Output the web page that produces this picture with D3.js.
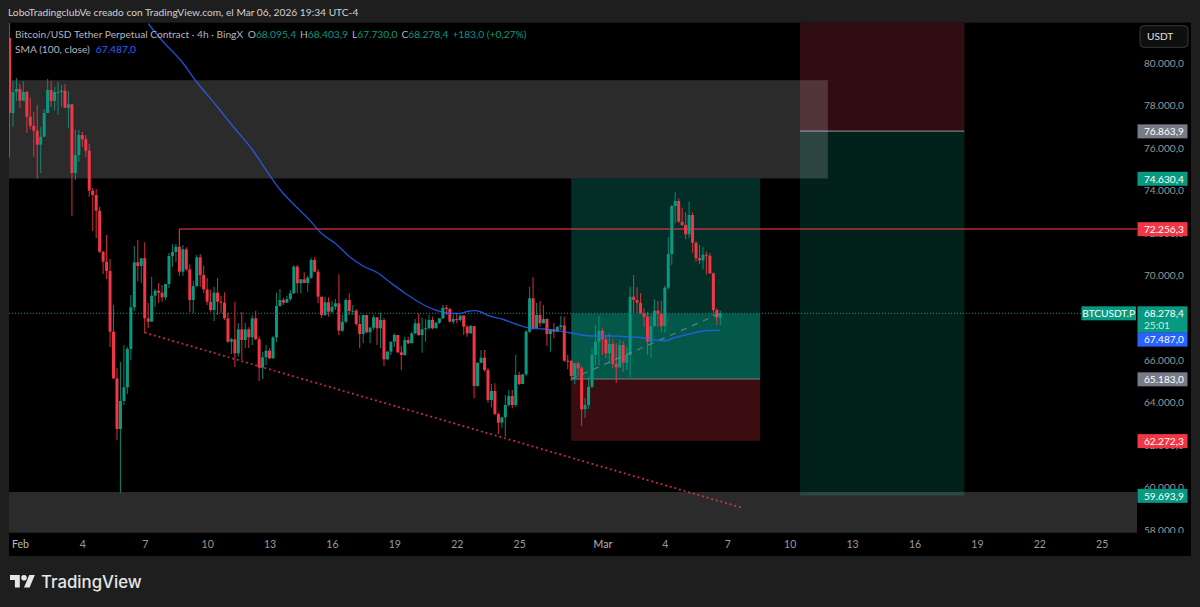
<!DOCTYPE html>
<html><head><meta charset="utf-8">
<script src="https://cdn.jsdelivr.net/npm/d3@7"></script>
<style>html,body{margin:0;padding:0;background:#1e1e1e;overflow:hidden}svg{display:block}text{font-family:Lato,"Open Sans",sans-serif}</style>
</head><body><svg id="c" width="1200" height="607"></svg>
<script>
const firstOpen = 81249;
const closes = [77716,78705,78846,78295,78705,77541,77117,76882,76222,76599,77716,78799,78281,78705,78705,78766,77965,78126,74889,75737,76679,76477,75940,74055,73852,73113,71181,70710,70272,67412,65217,62829,64148,64793,66598,68562,70682,70508,70870,68044,67884,69109,69344,69250,69033,69660,70979,71167,71417,70239,71294,70352,68906,69565,70917,70084,69410,68826,68435,69250,68826,68779,68044,66941,67055,66395,67525,67021,67525,67148,68044,67055,65717,66206,66518,66159,67148,68623,68906,68779,68953,69221,70475,69693,69881,69707,69957,70790,70239,69062,68199,68797,68354,68590,68750,67460,67884,68906,68388,68402,67775,67304,68199,67384,67601,68091,67573,67964,66112,66471,66941,67257,66442,66315,67021,66866,67337,67808,67257,67525,67573,67964,67573,67836,68044,68543,68482,67884,68011,67964,68167,67648,67337,67681,64855,65952,66188,65608,64195,64619,63535,63126,63380,63959,64383,63959,65373,64949,65406,67412,68986,67573,68199,67808,68011,67304,67525,67412,67634,67705,66047,66032,65326,65924,65688,63757,63959,64821,66315,66941,67460,67055,66395,66833,65891,65736,66786,65952,66315,69062,68906,68779,68279,68119,66941,67681,68402,68246,67681,69485,71073,73334,73570,72595,72439,72001,72910,71606,70870,70776,71040,70993,70164,68435,68072,68278];
const highs = [81955,79237,79364,79082,79223,78752,78436,77777,78092,77070,77904,79317,79237,78940,79176,79035,79082,78752,78139,76915,76915,76821,76679,76255,74197,74135,73301,71215,71968,70837,68671,65703,65985,66786,66706,69141,71450,71733,70885,71624,68765,70003,69424,69707,69613,69660,71120,71530,71544,72251,71497,71388,70588,69815,71026,71073,70522,69942,69377,69533,69942,69094,69269,68308,67116,68826,67808,68354,67836,67620,68199,68402,67177,66471,66786,66645,67210,69250,69424,69014,69094,69377,70555,70555,69895,70211,70037,70870,70918,70352,69062,69062,69033,68873,68953,70117,68199,68986,69222,68671,68482,68199,68199,67884,67648,68199,68091,68308,68058,66504,66941,67337,67257,66739,67177,67177,67412,68011,68279,68072,67997,68199,68119,67884,68044,68671,68671,68543,68199,68279,68199,68199,67728,67728,67681,65952,66550,66550,65703,64949,64982,63597,63408,64430,64666,64666,66315,65528,65420,67492,69533,69975,68765,68859,68671,68044,67539,67809,67681,68152,68119,66315,66079,65952,65999,65797,64289,65293,66631,67728,68152,67573,67257,67337,67055,66867,67021,66975,66706,69533,70084,69504,69222,68515,68354,68152,68939,68859,68873,69566,71860,73381,73994,73697,73254,73038,73537,73038,71653,71497,71389,71181,71120,70192,68515,68404];
const lows = [75610,77070,78281,77965,78281,76787,76962,75657,74606,74889,76585,78092,78000,77857,77621,78012,77951,77009,72877,74559,75421,76114,75643,73772,72156,71827,71120,70131,69895,66692,65184,62311,59827,63959,64477,66079,68388,69801,69707,67351,67587,67884,68576,68779,68826,68906,69471,70475,70696,70051,70051,70286,68358,68293,69533,69533,69236,68671,68358,67917,68199,68293,67964,66894,66362,65736,66235,66079,66645,66645,66786,67021,65090,65184,65844,66112,66127,66927,68590,68671,68765,68873,69189,69221,69221,69693,69297,69895,70211,68750,68072,68152,68119,68279,68435,67257,67412,67809,68199,68199,67695,66631,66866,67337,66866,67492,66786,66631,65797,66079,66315,66706,66409,65608,66268,66833,66913,67304,67224,66423,66941,67525,67525,67573,67775,68011,68199,67856,67775,67809,67884,67257,67177,67304,64275,64821,65924,65528,64068,63851,63488,62593,62862,62466,63880,63804,63880,64902,64949,65326,67337,67492,67587,67648,67808,66739,66471,67102,67398,67492,65999,65642,65090,64934,65293,62970,63347,63771,64760,65844,65844,66315,66159,65924,65688,65010,65688,65528,65608,65265,68279,68279,68246,67648,66315,66159,67648,67648,67412,67365,69410,70555,72519,72548,72392,71766,71813,71134,70710,70602,70352,70117,70131,68152,67728,67730];
const smaIndex = [40,44,50,54,60,64,70,74,78,82,86,90,94,98,102,106,110,114,118,122,126,130,132,134,136,138,142,146,150,154,158,162,166,170,174,178,182,186,189,192,196,200,205];
const smaValues = [81932,81131,80071,79176,77998,77174,75996,75030,74112,73405,72769,72039,71568,70955,70508,70201,69707,69236,68812,68482,68294,68270,68364,68402,68340,68176,68011,67775,67587,67540,67460,67351,67234,67210,67210,67177,67139,67021,66988,67139,67304,67446,67487];
const priceTicks = [80000,78000,76000,74000,72000,70000,68000,66000,64000,62000,60000,58000];
const dayTickIndex = [3,21,39,57,75,93,111,129,147,171,189,207,225,243,261,279,297,315];
const dayTickLabels = ["Feb","4","7","10","13","16","19","22","25","Mar","4","7","10","13","16","19","22","25"];
const levelPrices = [76863.9,74630.4,72256.3,65183.0,62272.3,59693.9];
const levelKinds = ["grey","green","red","grey","red","green"];
const lastPrice = 68278.4, smaLast = 67487.0;
const longEntry = 65183.0, longTarget = 74630.4, longStop = 62272.3;
const shortEntry = 76863.9, shortTarget = 59693.9, shortStop = 83000;
const zoneUpper = [79260,74630.4], zoneLower = [59860,57940];
const trendIndex = [39,211], trendPrice = [67366,59130];
const ohlcLabels = ["O","H","L","C"], ohlcValues = ["68.095,4","68.403,9","67.730,0","68.278,4"];

const svg = d3.select("#c");
const W=1200,H=607, L=9,R=1137,T=22.7,B=533,FR=1191,FB=556;
const x = d3.scaleLinear().domain([0,205]).range([9.5,720.3]);
const y = d3.scaleLinear().domain([80000,58000]).range([64.5,531.5]);
const GREEN="#089981",RED="#f23645",BLUE="#2962ff",GREY="#787b86";
const loc = d3.formatLocale({decimal:",",thousands:".",grouping:[3],currency:["",""]});
const fmt = loc.format(",.1f");
const FS = 10.1;

svg.append("rect").attr("width",W).attr("height",H).attr("fill","#1e1e1e");
svg.append("rect").attr("x",L).attr("y",T).attr("width",FR-L).attr("height",FB-T).attr("fill","#000");
svg.append("defs").append("clipPath").attr("id","pane").append("rect").attr("x",L).attr("y",T).attr("width",R-L).attr("height",B-T);
const pane = svg.append("g").attr("clip-path","url(#pane)");

function box(g,i0,i1,p0,p1,fill){return g.append("rect").attr("x",x(i0)).attr("width",x(i1)-x(i0)).attr("y",y(p0)).attr("height",y(p1)-y(p0)).attr("fill",fill);}
box(pane,228,275.4,shortStop,shortEntry,"#300d10");
box(pane,228,275.4,shortEntry,shortTarget,"#03211b");
box(pane,162,216.5,longTarget,lastPrice,"#032e27");
box(pane,162,216.5,lastPrice,longEntry,"#04584a");
box(pane,162,216.5,longEntry,longStop,"#3a0e11");
[[162,216.5,longEntry],[228,275.4,shortEntry]].forEach(d=>{
  pane.append("line").attr("x1",x(d[0])).attr("x2",x(d[1])).attr("y1",y(d[2])).attr("y2",y(d[2])).attr("stroke",GREY).attr("stroke-width",1.2);
});
box(pane,-10,236,zoneUpper[0],zoneUpper[1],"rgba(255,255,255,0.17)");
box(pane,-10,400,zoneLower[0],zoneLower[1],"rgba(255,255,255,0.17)");
pane.append("line").attr("x1",x(49)).attr("x2",R).attr("y1",y(72256.3)).attr("y2",y(72256.3)).attr("stroke",RED).attr("stroke-opacity",0.55).attr("stroke-width",2);
pane.append("line").attr("x1",x(49)).attr("x2",x(49)).attr("y1",y(72256.3)).attr("y2",y(71300)).attr("stroke",RED).attr("stroke-opacity",0.6);
pane.append("line").attr("x1",L).attr("x2",R).attr("y1",y(lastPrice)).attr("y2",y(lastPrice)).attr("stroke",GREEN).attr("stroke-dasharray","1 2");
const candles = closes.map((c,i)=>({i,o:i?closes[i-1]:firstOpen,c,h:highs[i],l:lows[i]}));
const cg = pane.append("g");
const col = d=>d.c>=d.o?GREEN:RED;
cg.selectAll("line").data(candles).join("line")
 .attr("x1",d=>x(d.i)).attr("x2",d=>x(d.i)).attr("y1",d=>y(d.h)).attr("y2",d=>y(d.l))
 .attr("stroke",col).attr("stroke-opacity",0.8).attr("stroke-width",1.1);
cg.selectAll("rect").data(candles).join("rect")
 .attr("x",d=>x(d.i)-1.5).attr("width",3)
 .attr("y",d=>Math.min(y(d.o),y(d.c))).attr("height",d=>Math.max(1,Math.abs(y(d.o)-y(d.c))))
 .attr("fill",col);
pane.append("line").attr("x1",x(162)).attr("y1",y(longEntry)).attr("x2",x(205)).attr("y2",y(lastPrice)).attr("stroke","#8a8f98").attr("stroke-opacity",0.7).attr("stroke-width",1.2).attr("stroke-dasharray","6 6");
pane.append("path").datum(smaIndex.map((d,i)=>[d,smaValues[i]])).attr("fill","none").attr("stroke",BLUE).attr("stroke-opacity",0.8).attr("stroke-width",1.35)
 .attr("d",d3.line().x(d=>x(d[0])).y(d=>y(d[1])).curve(d3.curveMonotoneX));
pane.append("line").attr("x1",x(trendIndex[0])).attr("y1",y(trendPrice[0])).attr("x2",x(trendIndex[1])).attr("y2",y(trendPrice[1])).attr("stroke",RED).attr("stroke-opacity",0.85).attr("stroke-width",1.8).attr("stroke-dasharray","1.8 3");

const ax = svg.append("g").attr("transform",`translate(1137,-1.5)`).call(d3.axisRight(y).tickValues(priceTicks).tickFormat(fmt).tickSize(0).tickPadding(7));
ax.select(".domain").remove();
ax.selectAll("text").attr("fill","#969696").attr("font-size",FS).style("font-family","Lato");
svg.append("rect").attr("x",1137).attr("y",533).attr("width",54).attr("height",23).attr("fill","#000");

const tx = svg.append("g").attr("transform",`translate(0,${B})`).call(d3.axisBottom(x).tickValues(dayTickIndex).tickFormat((d,i)=>dayTickLabels[i]).tickSize(0).tickPadding(8));
tx.select(".domain").remove();
tx.selectAll("text").attr("fill",(d,i)=>dayTickLabels[i].length>2?"#b8b8b8":"#9a9a9a").attr("font-size",10.5).style("font-family","Lato");

const kindColor={grey:GREY,green:GREEN,red:RED};
const lbl = svg.append("g");
function label(px,fill,txt,h=14){
  lbl.append("rect").attr("x",1137.5).attr("y",px-h/2).attr("width",50).attr("height",h).attr("fill",fill);
  lbl.append("text").attr("x",1144).attr("y",px+0.3).attr("dy","0.35em").attr("font-size",FS).attr("fill","#fff").text(txt);
}
levelPrices.forEach((p,i)=>label(y(p)+0.3,kindColor[levelKinds[i]],fmt(p)));
const cy=y(lastPrice);
lbl.append("rect").attr("x",1137.5).attr("y",cy-7).attr("width",50).attr("height",26.5).attr("fill",GREEN);
lbl.append("text").attr("x",1144).attr("y",cy).attr("dy","0.35em").attr("font-size",FS).attr("fill","#fff").text(fmt(lastPrice));
lbl.append("text").attr("x",1144).attr("y",cy+12.5).attr("dy","0.35em").attr("font-size",FS).attr("fill","#cfe9e3").text("25:01");
label(cy+26.3,BLUE,fmt(smaLast));
lbl.append("rect").attr("x",1081.5).attr("y",cy-7).attr("width",54.5).attr("height",14).attr("fill",GREEN);
lbl.append("text").attr("x",1108.7).attr("y",cy).attr("dy","0.35em").attr("text-anchor","middle").attr("font-size",FS).attr("fill","#fff").text("BTCUSDT.P");

svg.append("rect").attr("x",1140).attr("y",25.7).attr("width",48).attr("height",21.6).attr("rx",4).attr("fill","#0f0f0f").attr("stroke","#3a3a3a");
svg.append("text").attr("x",1147).attr("y",36.5).attr("dy","0.35em").attr("font-size",FS).attr("fill","#e0e0e0").text("USDT");

svg.append("text").attr("x",8).attr("y",12.5).attr("dy","0.35em").attr("font-size",10.2).attr("fill","#d0d0d0").text("LoboTradingclubVe creado con TradingView.com, el Mar 06, 2026 19:34 UTC-4");
const leg = svg.append("text").attr("x",15).attr("y",34.5).attr("dy","0.35em").attr("font-size",10.2);
leg.append("tspan").attr("fill","#b2b5be").text("Bitcoin/USD Tether Perpetual Contract · 4h · BingX");
ohlcLabels.forEach((k,i)=>{
  leg.append("tspan").attr("fill","#b2b5be").attr("dx",i?4:5).text(k);
  leg.append("tspan").attr("fill",GREEN).text(ohlcValues[i]);
});
leg.append("tspan").attr("fill",GREEN).attr("dx",4).text("+183,0 (+0,27%)");
const leg2 = svg.append("text").attr("x",15).attr("y",49.5).attr("dy","0.35em").attr("font-size",10.2);
leg2.append("tspan").attr("fill","#b2b5be").text("SMA (100, close)");
leg2.append("tspan").attr("fill",BLUE).attr("dx",6).text(fmt(smaLast));

const lg = svg.append("g").attr("transform","translate(10,572.2) scale(0.7)").attr("fill","#e6e6e6");
lg.append("path").attr("d","M14 22H7V11H0V4h14v18zM28 22h-8l7.5-18h8L28 22z");
lg.append("circle").attr("cx",20).attr("cy",8).attr("r",4);
svg.append("text").attr("x",41).attr("y",582).attr("dy","0.35em").attr("font-size",16.8).attr("font-weight",500).style("font-family","Inter").attr("fill","#e6e6e6").text("TradingView");
</script></body></html>
